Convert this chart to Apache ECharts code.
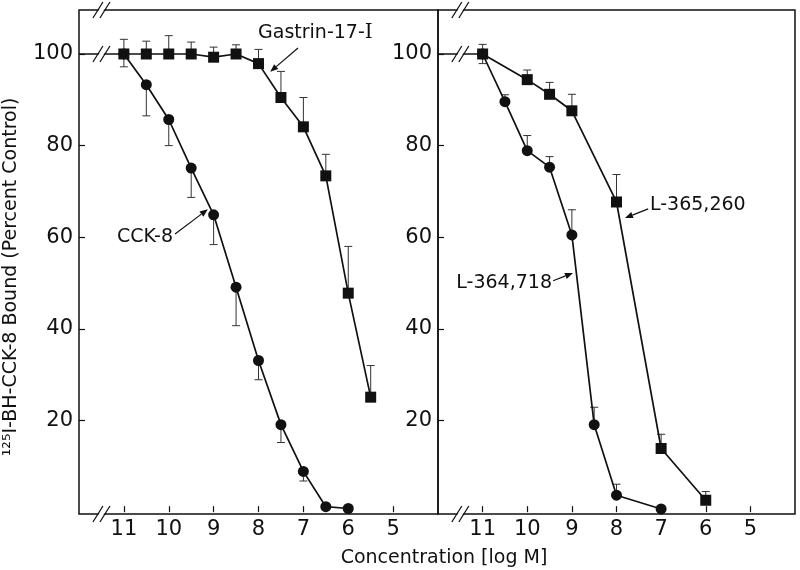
<!DOCTYPE html>
<html><head><meta charset="utf-8">
<script src="https://cdn.jsdelivr.net/npm/echarts@6/dist/echarts.min.js"></script>
<style>html,body{margin:0;padding:0;background:#fff}#c{width:800px;height:570px}</style>
</head><body><div id="c"></div>
<script>
// ---- data ----
const xTicks = [11, 10, 9, 8, 7, 6, 5];
const yTicks = [20, 40, 60, 80, 100];
const controlX = [12, 11];
const controlY = [100, 100];
// left panel
const gastrinX  = [11, 10.5, 10, 9.5, 9, 8.5, 8, 7.5, 7, 6.5, 6, 5.5];
const gastrinY  = [100, 100, 100, 100, 99.3, 100, 97.9, 90.5, 84.1, 73.4, 47.8, 25.1];
const gastrinHi = [103.2, 102.8, 104, 102.6, 101.5, 102, 101, 96.2, 90.5, 78.1, 58, 32];
const gastrinLo = [97.2, null, null, null, null, null, null, null, null, null, null, null];
const cckX  = [11, 10.5, 10, 9.5, 9, 8.5, 8, 7.5, 7, 6.5, 6];
const cckY  = [100, 93.3, 85.7, 75.1, 64.9, 49.1, 33.1, 19.1, 8.9, 1.2, 0.8];
const cckHi = [null, null, null, null, null, null, null, null, null, null, null];
const cckLo = [null, 86.5, 80, 68.7, 58.4, 40.7, 28.9, 15.2, 6.8, null, null];
// right panel
const l365X  = [11, 10, 9.5, 9, 8, 7, 6];
const l365Y  = [100, 94.4, 91.2, 87.6, 67.7, 13.9, 2.6];
const l365Hi = [102.1, 96.5, 93.8, 91.2, 73.7, 17, 4.5];
const l365Lo = [97.9, null, null, null, null, null, null];
const l364X  = [11, 10.5, 10, 9.5, 9, 8.5, 8, 7];
const l364Y  = [100, 89.6, 78.9, 75.3, 60.5, 19.1, 3.7, 0.7];
const l364Hi = [null, 91.1, 82.2, 77.6, 66, 22.9, 6.1, null];
const l364Lo = [null, null, null, null, null, null, null, null];
const labelNames = ['{a|Gastrin-17-}{b|I}', '{a|CCK-8}', '{a|L-365,260}', '{a|L-364,718}'];

// ---- helpers ----
const FONT = '"DejaVu Sans", sans-serif';
const INK = '#111';
const pairs = (xs, ys) => xs.map((x, i) => [x, ys[i]]);
const errData = (xs, ys, hi, lo) => xs.map((x, i) => [x, ys[i], hi[i] == null ? ys[i] : hi[i], lo[i] == null ? ys[i] : lo[i]]);

function errRender(params, api) {
  const x = api.value(0), y = api.value(1), hi = api.value(2), lo = api.value(3);
  const pc = api.coord([x, y]), ph = api.coord([x, hi]), pl = api.coord([x, lo]);
  const cw = 4;
  const ch = [{type: 'line', shape: {x1: pc[0], y1: ph[1], x2: pc[0], y2: pl[1]}, style: {stroke: '#333', lineWidth: 1}}];
  if (hi !== y) ch.push({type: 'line', shape: {x1: pc[0] - cw, y1: ph[1], x2: pc[0] + cw, y2: ph[1]}, style: {stroke: '#333', lineWidth: 1}});
  if (lo !== y) ch.push({type: 'line', shape: {x1: pc[0] - cw, y1: pl[1], x2: pc[0] + cw, y2: pl[1]}, style: {stroke: '#333', lineWidth: 1}});
  return {type: 'group', children: ch};
}
function breakRender(params, api) {
  const p = api.coord([api.value(0), api.value(1)]);
  const cx = p[0], cy = p[1], s = 3.5, dx = 5, dy = 8;
  return {type: 'group', children: [
    {type: 'polygon', shape: {points: [[cx - s - dx + 1, cy + dy], [cx - s + dx + 1, cy - dy], [cx + s + dx - 1, cy - dy], [cx + s - dx - 1, cy + dy]]}, style: {fill: '#fff'}},
    {type: 'line', shape: {x1: cx - s - dx, y1: cy + dy, x2: cx - s + dx, y2: cy - dy}, style: {stroke: INK, lineWidth: 1.3}},
    {type: 'line', shape: {x1: cx + s - dx, y1: cy + dy, x2: cx + s + dx, y2: cy - dy}, style: {stroke: INK, lineWidth: 1.3}}
  ]};
}
function arrowRender(params, api) {
  const a = api.coord([api.value(0), api.value(1)]);
  const b = api.coord([api.value(2), api.value(3)]);
  const ang = Math.atan2(b[1] - a[1], b[0] - a[0]);
  const L = 8, W = 3.2;
  const bx = b[0] - L * Math.cos(ang), by = b[1] - L * Math.sin(ang);
  const nx = -Math.sin(ang) * W, ny = Math.cos(ang) * W;
  return {type: 'group', children: [
    {type: 'line', shape: {x1: a[0], y1: a[1], x2: bx, y2: by}, style: {stroke: INK, lineWidth: 1.2}},
    {type: 'polygon', shape: {points: [[b[0], b[1]], [bx + nx, by + ny], [bx - nx, by - ny]]}, style: {fill: INK}}
  ]};
}
function textRender(params, api) {
  const p = api.coord([api.value(0), api.value(1)]);
  const idx = api.value(2);
  return {type: 'text', x: p[0], y: p[1], style: {text: labelNames[idx], fill: INK, fontSize: 19, fontFamily: FONT,
    align: api.value(3) ? 'right' : 'left', verticalAlign: 'middle',
    rich: {a: {fontSize: 19, fontFamily: FONT, fill: INK}, b: {fontSize: 20, fontFamily: '"DejaVu Serif", serif', fill: INK}}}};
}

function xAx(g) {
  return {type: 'value', gridIndex: g, min: 4, max: 12, inverse: true,
    axisLine: {show: false}, splitLine: {show: false},
    axisTick: {inside: true, length: 6, lineStyle: {color: INK, width: 1.2}, customValues: xTicks},
    axisLabel: {customValues: xTicks, color: INK, fontSize: 21, fontFamily: FONT, margin: 5}};
}
function yAx(g) {
  return {type: 'value', gridIndex: g, min: -0.4, max: 109.6,
    axisLine: {show: false}, splitLine: {show: false},
    axisTick: {inside: true, length: 6, lineStyle: {color: INK, width: 1.2}, customValues: yTicks},
    axisLabel: {customValues: yTicks, color: INK, fontSize: 21, fontFamily: FONT, margin: 6}};
}
function lineSeries(g, xs, ys, sym, z) {
  return {type: 'line', xAxisIndex: g, yAxisIndex: g, data: pairs(xs, ys), symbol: sym, symbolSize: 11,
    showSymbol: true, itemStyle: {color: INK}, lineStyle: {color: INK, width: 1.7}, z: z, animation: false};
}
function errSeries(g, data) {
  return {type: 'custom', xAxisIndex: g, yAxisIndex: g, renderItem: errRender, data: data, z: 1, clip: false, animation: false};
}
function custom(g, render, data, z) {
  return {type: 'custom', xAxisIndex: g, yAxisIndex: g, renderItem: render, data: data, z: z, clip: false, animation: false, silent: true};
}
const breaks = [[11.5, -0.4], [11.5, 100], [11.5, 109.6]];

const option = {
  backgroundColor: '#fff',
  animation: false,
  grid: [
    {left: 79, top: 10, width: 359, height: 504, show: true, borderColor: INK, borderWidth: 1.5, backgroundColor: 'transparent'},
    {left: 438, top: 10, width: 357, height: 504, show: true, borderColor: INK, borderWidth: 1.5, backgroundColor: 'transparent'}
  ],
  xAxis: [xAx(0), xAx(1)],
  yAxis: [yAx(0), yAx(1)],
  series: [
    errSeries(0, errData(gastrinX, gastrinY, gastrinHi, gastrinLo)),
    errSeries(0, errData(cckX, cckY, cckHi, cckLo)),
    {type: 'line', xAxisIndex: 0, yAxisIndex: 0, data: pairs(controlX, controlY), symbol: 'none', lineStyle: {color: INK, width: 1.7}, z: 2, animation: false},
    lineSeries(0, cckX, cckY, 'circle', 3),
    lineSeries(0, gastrinX, gastrinY, 'rect', 4),
    custom(0, breakRender, breaks, 6),
    custom(0, arrowRender, [[7.12, 101.3, 7.74, 96.1], [9.86, 60.7, 9.13, 66.1]], 7),
    custom(0, textRender, [[8.01, 104.6, 0, 0], [9.905, 60.1, 1, 1]], 7),

    errSeries(1, errData(l365X, l365Y, l365Hi, l365Lo)),
    errSeries(1, errData(l364X, l364Y, l364Hi, l364Lo)),
    {type: 'line', xAxisIndex: 1, yAxisIndex: 1, data: pairs(controlX, controlY), symbol: 'none', lineStyle: {color: INK, width: 1.7}, z: 2, animation: false},
    lineSeries(1, l364X, l364Y, 'circle', 3),
    lineSeries(1, l365X, l365Y, 'rect', 4),
    custom(1, breakRender, breaks, 6),
    custom(1, arrowRender, [[7.29, 66.2, 7.81, 64.2], [9.42, 50.5, 8.975, 52.2]], 7),
    custom(1, textRender, [[7.25, 67.05, 2, 0], [9.445, 50.0, 3, 1]], 7)
  ],
  graphic: [
    {type: 'text', x: 11, y: 277, rotation: Math.PI / 2, style: {text: '\u00B9\u00B2\u2075I-BH-CCK-8 Bound (Percent Control)', fill: INK, fontSize: 19, fontFamily: FONT, align: 'center', verticalAlign: 'middle'}},
    {type: 'text', x: 444, y: 558, style: {text: 'Concentration [log M]', fill: INK, fontSize: 19, fontFamily: FONT, align: 'center', verticalAlign: 'middle'}}
  ]
};
const chart = echarts.init(document.getElementById('c'), null, {renderer: 'canvas'});
chart.setOption(option);
</script></body></html>
